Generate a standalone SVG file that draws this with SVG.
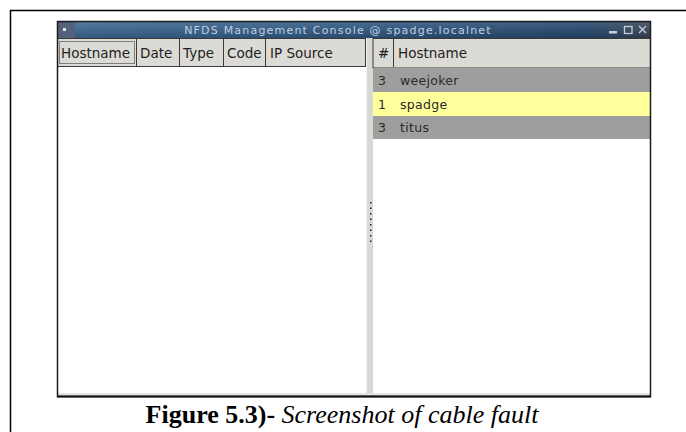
<svg xmlns="http://www.w3.org/2000/svg" width="686" height="432" viewBox="0 0 686 432">
  <defs>
    <linearGradient id="titleGrad" x1="0" y1="0" x2="1" y2="0">
      <stop offset="0" stop-color="#3d6894"/>
      <stop offset="0.55" stop-color="#2d5580"/>
      <stop offset="0.9" stop-color="#23466c"/>
      <stop offset="1" stop-color="#3a4656"/>
    </linearGradient>
    <linearGradient id="titleShade" x1="0" y1="0" x2="0" y2="1">
      <stop offset="0" stop-color="#ffffff" stop-opacity="0.12"/>
      <stop offset="1" stop-color="#000000" stop-opacity="0.15"/>
    </linearGradient>
    <style>
      .hdr { fill: #dcdad5; stroke: #3a3a3a; stroke-width: 1; }
      .sep { stroke: #3a3a3a; stroke-width: 1; }
      .htxt { font-family: "DejaVu Sans", sans-serif; font-size: 13.5px; fill: #1e1e1e; }
      .rtxt { font-family: "DejaVu Sans", sans-serif; font-size: 12.5px; fill: #2a2a2a; letter-spacing: 0.3px; }
      .odd { fill: #9e9e9e; }
      .sel { fill: #ffff9c; }
      .btn { fill: none; stroke: #c4d0dc; stroke-width: 1.3; }
    </style>
  </defs>

  <rect x="0" y="0" width="686" height="432" fill="#ffffff"/>

  <!-- page frame -->
  <path d="M10.5 432 V10.5 H686" fill="none" stroke="#000" stroke-width="1.5"/>

  <g id="window">
    <rect x="57" y="21" width="594" height="376" fill="#ffffff"/>

    <!-- title bar -->
    <g id="titlebar">
      <rect x="57" y="21" width="594" height="17" fill="url(#titleGrad)"/>
      <rect x="57" y="21" width="594" height="17" fill="url(#titleShade)"/>
      <rect x="57" y="21" width="18" height="17" fill="#53627a"/>
      <rect x="63" y="28" width="3" height="3" fill="#dfe6ee"/>
      <text x="338" y="34" text-anchor="middle" font-family="DejaVu Sans, sans-serif" font-size="11" fill="#bfcfe0" letter-spacing="1.2">NFDS Management Console @ spadge.localnet</text>
      <rect x="609" y="31" width="8" height="2.5" fill="#c4d0dc"/>
      <rect x="624.5" y="26.5" width="7.5" height="7" class="btn" stroke-width="1.6"/>
      <path d="M639 26 L646 33 M646 26 L639 33" class="btn"/>
    </g>

    <!-- left list -->
    <g id="left-list">
      <rect x="57.5" y="38.5" width="308" height="28" class="hdr"/>
      <line x1="136.5" y1="39" x2="136.5" y2="66" class="sep"/>
      <line x1="179.5" y1="39" x2="179.5" y2="66" class="sep"/>
      <line x1="223.5" y1="39" x2="223.5" y2="66" class="sep"/>
      <line x1="265.5" y1="39" x2="265.5" y2="66" class="sep"/>
      <rect x="59.5" y="41.5" width="75" height="22" fill="none" stroke="#222" stroke-width="1" stroke-dasharray="1 1"/>
      <text x="61" y="58" class="htxt">Hostname</text>
      <text x="140" y="58" class="htxt">Date</text>
      <text x="183" y="58" class="htxt">Type</text>
      <text x="227" y="58" class="htxt">Code</text>
      <text x="270" y="58" class="htxt">IP Source</text>
    </g>

    <!-- splitter -->
    <g id="splitter">
      <rect x="366" y="38" width="7" height="359" fill="#d8d8d4"/>
      <line x1="366.5" y1="38" x2="366.5" y2="397" stroke="#f2f2f0"/>
      <g fill="#222">
        <rect x="370" y="202" width="1.5" height="1.5"/>
        <rect x="370" y="207.5" width="1.5" height="1.5"/>
        <rect x="370" y="213" width="1.5" height="1.5"/>
        <rect x="370" y="218.5" width="1.5" height="1.5"/>
        <rect x="370" y="224" width="1.5" height="1.5"/>
        <rect x="370" y="229.5" width="1.5" height="1.5"/>
        <rect x="370" y="235" width="1.5" height="1.5"/>
        <rect x="370" y="240.5" width="1.5" height="1.5"/>
      </g>
    </g>

    <!-- right list -->
    <g id="right-list">
      <rect x="373" y="38.5" width="277.5" height="29.5" class="hdr"/>
      <line x1="393.5" y1="39" x2="393.5" y2="67" class="sep"/>
      <text x="378" y="58" class="htxt">#</text>
      <text x="398" y="58" class="htxt">Hostname</text>

      <g id="row-weejoker">
        <rect x="373" y="68" width="278" height="24" class="odd"/>
        <text x="378" y="84.5" class="rtxt">3</text>
        <text x="400" y="84.5" class="rtxt">weejoker</text>
      </g>
      <g id="row-spadge">
        <rect x="373" y="92" width="278" height="24" class="sel"/>
        <text x="378" y="108.5" class="rtxt">1</text>
        <text x="400" y="108.5" class="rtxt">spadge</text>
      </g>
      <g id="row-titus">
        <rect x="373" y="116" width="278" height="23" class="odd"/>
        <text x="378" y="131.5" class="rtxt">3</text>
        <text x="400" y="131.5" class="rtxt">titus</text>
      </g>
    </g>

    <!-- window edges -->
    <rect x="57" y="393" width="594" height="3" fill="#e4e4e0"/>
    <rect x="57.5" y="21.5" width="593" height="375" fill="none" stroke="#1c1c1c" stroke-width="1.5"/>
    <line x1="57" y1="396.5" x2="651" y2="396.5" stroke="#111" stroke-width="2"/>
  </g>

  <!-- caption -->
  <text x="342" y="423" text-anchor="middle" font-family="Liberation Serif, serif" font-size="26" fill="#000"><tspan font-weight="bold">Figure 5.3)-</tspan> <tspan font-style="italic">Screenshot of cable fault</tspan></text>
</svg>
